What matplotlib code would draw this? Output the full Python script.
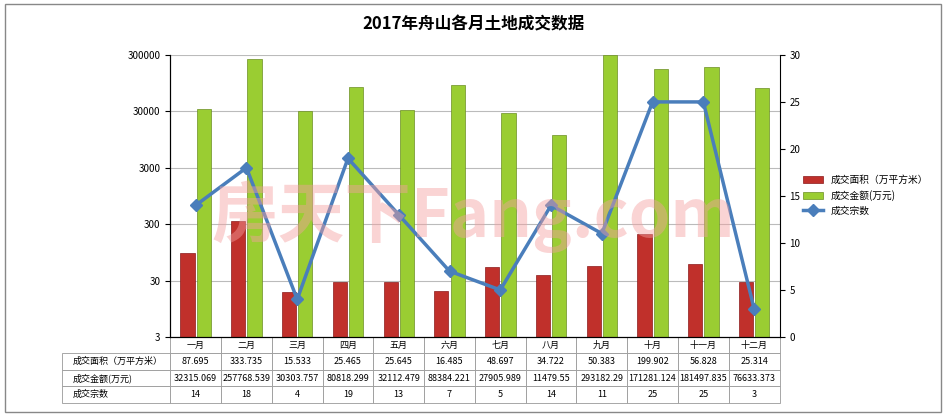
import matplotlib
matplotlib.use("Agg")
import matplotlib.pyplot as plt
from matplotlib.patches import Rectangle

plt.rcParams['font.family'] = ['Noto Sans CJK SC', 'DejaVu Sans']

months = ['一月', '二月', '三月', '四月', '五月', '六月', '七月', '八月', '九月', '十月', '十一月', '十二月']
area = [87.695, 333.735, 15.533, 25.465, 25.645, 16.485, 48.697, 34.722, 50.383, 199.902, 56.828, 25.314]
amount = [32315.069, 257768.539, 30303.757, 80818.299, 32112.479, 88384.221, 27905.989, 11479.55,
          293182.29, 171281.124, 181497.835, 76633.373]
deals = [14, 18, 4, 19, 13, 7, 5, 14, 11, 25, 25, 3]
area_txt = ['87.695', '333.735', '15.533', '25.465', '25.645', '16.485', '48.697', '34.722',
            '50.383', '199.902', '56.828', '25.314']
amount_txt = ['32315.069', '257768.539', '30303.757', '80818.299', '32112.479', '88384.221',
              '27905.989', '11479.55', '293182.29', '171281.124', '181497.835', '76633.373']

red = '#c0302b'
green = '#9acd32'
blue = '#4a7ebb'

fig = plt.figure(figsize=(9.46, 4.16), dpi=100)
fig.patches.append(Rectangle((0.005, 0.01), 0.99, 0.98, transform=fig.transFigure,
                             fill=False, edgecolor='#888888', lw=1))
ax = fig.add_axes([0.18, 0.19, 0.644, 0.678])
x = list(range(len(months)))
ax.bar([i - 0.16 for i in x], area, width=0.28, bottom=3, color=red, edgecolor='#8b1a1a', lw=0.5,
       label='成交面积（万平方米）', zorder=2)
ax.bar([i + 0.16 for i in x], amount, width=0.28, bottom=3, color=green, edgecolor='#6b8e23', lw=0.5,
       label='成交金额(万元)', zorder=2)
ax.set_yscale('log')
ax.set_ylim(3, 300000)
ax.set_yticks([3, 30, 300, 3000, 30000, 300000])
ax.set_yticklabels(['3', '30', '300', '3000', '30000', '300000'], fontsize=7)
ax.minorticks_off()
ax.set_xlim(-0.5, 11.5)
ax.set_xticks(x)
ax.set_xticklabels([])
ax.tick_params(axis='x', length=0)
ax.grid(axis='y', color='#bbbbbb', lw=0.8, zorder=0)
for s in ['top', 'right']:
    ax.spines[s].set_visible(False)

ax2 = ax.twinx()
ax2.plot(x, deals, color=blue, lw=2.5, marker='D', markersize=6, label='成交宗数', zorder=3)
ax2.set_ylim(0, 30)
ax2.set_yticks(range(0, 31, 5))
ax2.tick_params(labelsize=7)
for s in ['top']:
    ax2.spines[s].set_visible(False)

fig.text(0.5, 0.93, '2017年舟山各月土地成交数据', ha='center', fontsize=12, fontweight='bold')
fig.text(0.5, 0.48, '房天下Fang.com', ha='center', va='center', fontsize=48, color='#f4a0a0',
         alpha=0.45, fontweight='bold', zorder=10)

h1, l1 = ax.get_legend_handles_labels()
h2, l2 = ax2.get_legend_handles_labels()
fig.legend(h1 + h2, l1 + l2, loc='center left', bbox_to_anchor=(0.84, 0.53), frameon=False,
           fontsize=7)

# month labels row + data table
tab = ax.table(cellText=[months, area_txt, amount_txt, [str(d) for d in deals]],
               rowLabels=['', '成交面积（万平方米）', '成交金额(万元)', '成交宗数'],
               cellLoc='center', rowLoc='left', bbox=[0, -0.233, 1, 0.233])
tab.auto_set_font_size(False)
tab.set_fontsize(6.5)
for (r, c), cell in tab.get_celld().items():
    cell.set_edgecolor('#999999')
    cell.set_linewidth(0.6)
    if r == 0 and c == -1:
        cell.set_edgecolor('none')
fig.savefig('out.png', dpi=100)
